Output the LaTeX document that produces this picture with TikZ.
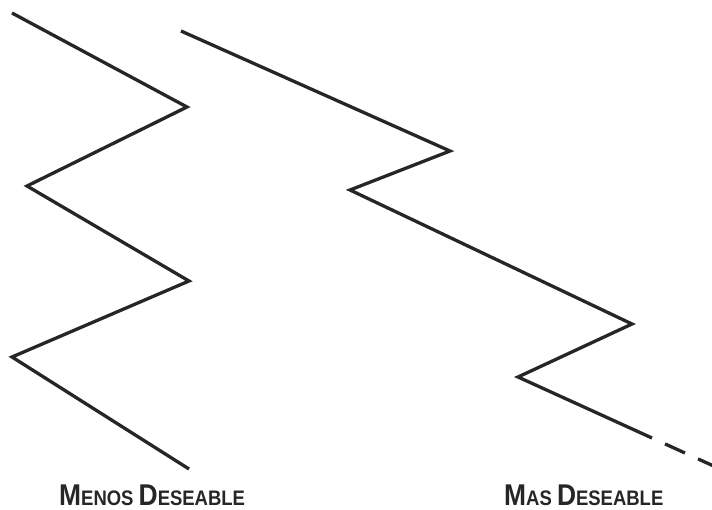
\documentclass[tikz,border=0pt]{standalone}
\usepackage{fontspec}
\newfontfamily\labfont[FakeStretch=0.88]{Liberation Sans}
\newcommand{\bigc}[1]{{\fontsize{30}{30}\selectfont #1}}
\newcommand{\smc}[1]{{\fontsize{21}{21}\selectfont #1}}
\begin{document}
\begin{tikzpicture}[x=1pt,y=-1pt,
  zig/.style={draw=black!85, line width=3.3pt, line join=miter, line cap=butt},
  lab/.style={inner sep=0pt, anchor=base west, text=black!85, font=\labfont\bfseries}]
\useasboundingbox (0,0) rectangle (712,510);
% left zigzag
\coordinate (l1) at (12,13);
\coordinate (l2) at (187,107);
\coordinate (l3) at (27,186);
\coordinate (l4) at (189,281);
\coordinate (l5) at (12,357);
\coordinate (l6) at (189,469);
\draw[zig] (l1) -- (l2) -- (l3) -- (l4) -- (l5) -- (l6);
% right zigzag
\coordinate (r1) at (181,31);
\coordinate (r2) at (450,151);
\coordinate (r3) at (350,190);
\coordinate (r4) at (632,324);
\coordinate (r5) at (518,377);
\coordinate (r6) at (652,438);
\coordinate (d1a) at (665,443.9);
\coordinate (d1b) at (685,453.0);
\coordinate (d2a) at (698,458.9);
\coordinate (d2b) at (716,467.1);
\draw[zig] (r1) -- (r2) -- (r3) -- (r4) -- (r5) -- (r6);
\draw[zig] (d1a) -- (d1b);
\draw[zig] (d2a) -- (d2b);
% labels
\node[lab] (t1) at (59,505) {\bigc{M}\smc{ENOS\ }\bigc{D}\smc{ESEABLE}};
\node[lab] (t2) at (504,505) {\bigc{M}\smc{AS\ }\bigc{D}\smc{ESEABLE}};
\end{tikzpicture}
\end{document}
